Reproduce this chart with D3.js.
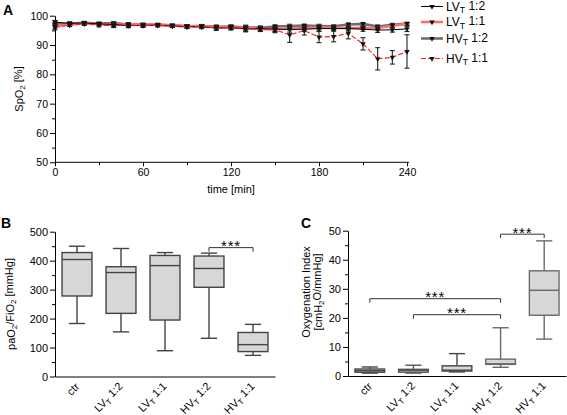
<!DOCTYPE html>
<html><head><meta charset="utf-8">
<script src="https://cdn.jsdelivr.net/npm/d3@7"></script>
<style>
body{margin:0;background:#fff}
svg text{font-family:"Liberation Sans",Arial,Helvetica,sans-serif;fill:#000}
</style>
</head><body>
<svg id="chart" width="567" height="415"></svg>
<script>
// ---------- DATA ----------
const times = [0,10,20,30,40,50,60,70,80,90,100,110,120,130,140,150,160,170,180,190,200,210,220,230,240];
const seriesNames = ["LV_T 1:2","LV_T 1:1","HV_T 1:2","HV_T 1:1"];
const lv12 = [97.8,97.4,97.5,97.2,97.0,96.6,96.7,96.8,96.5,96.3,96.2,95.8,95.9,95.5,95.6,95.4,95.3,95.4,95.6,95.6,95.6,95.4,95.1,95.2,95.5];
const lv12sd = [0.6,0.5,0.5,0.5,0.6,0.7,0.6,0.5,0.5,0.6,0.6,0.8,0.7,1.0,0.8,0.9,0.9,0.8,0.8,0.7,0.8,0.7,0.8,0.8,0.9];
const lv11 = [96.5,97.0,97.4,97.1,96.9,97.0,96.9,96.9,96.6,96.4,96.5,96.1,96.0,95.8,95.5,95.3,95.8,95.8,96.0,95.9,95.8,95.9,95.8,96.6,97.2];
const lv11sd = [0.8,0.5,0.5,0.5,0.5,0.6,0.5,0.5,0.5,0.5,0.5,0.6,0.6,0.7,0.6,0.7,0.6,0.6,0.6,0.6,0.6,0.6,0.6,0.5,0.5];
const hv12 = [97.2,97.3,97.6,97.3,97.5,97.0,97.0,96.9,96.7,96.4,96.5,96.2,96.3,96.0,95.9,96.3,96.5,96.6,96.5,96.4,97.0,97.2,96.3,96.9,97.3];
const hv12sd = [0.6,0.5,0.5,0.6,0.5,0.6,0.5,0.5,0.5,0.5,0.5,0.6,0.6,0.8,0.6,0.7,0.6,0.6,0.6,0.5,0.6,0.5,0.6,0.5,0.5];
const hv11 = [96.0,96.8,97.2,96.8,96.6,96.8,96.6,96.7,96.5,96.3,96.3,95.9,96.0,95.6,95.4,95.2,93.5,94.9,92.7,92.9,94.0,90.4,85.3,85.8,87.8];
const hv11sd = [0.8,0.5,0.5,0.6,0.6,0.8,0.6,0.5,0.5,0.6,0.6,0.8,0.8,1.0,0.8,1.0,2.6,1.5,1.9,1.8,1.9,2.1,3.8,2.3,5.7];
const spoTicks = [50,60,70,80,90,100];
const timeTicks = [0,60,120,180,240];

const groups = ["ctr","LV_T 1:2","LV_T 1:1","HV_T 1:2","HV_T 1:1"];
// paO2/FiO2 [mmHg]: whisker min, Q1, median, Q3, whisker max
const pfMin = [183,154,89,132,73];
const pfQ1  = [278,218,195,308,86];
const pfMed = [404,359,383,373,110];
const pfQ3  = [428,379,418,416,152];
const pfMax = [450,442,428,426,180];
const pfTicks = [0,100,200,300,400,500];
// Oxygenation index [cmH2O/mmHg]
const oiMin = [1.0,1.0,1.4,3.0,12.7];
const oiQ1  = [1.3,1.3,1.7,4.0,20.9];
const oiMed = [1.8,1.9,2.0,4.2,29.5];
const oiQ3  = [2.4,2.3,3.5,5.8,36.2];
const oiMax = [3.1,3.7,7.7,16.6,46.5];
const oiTicks = [0,10,20,30,40,50];
// significance brackets: [fromGroup, toGroup, level]
const pfSig = [[3,4,445]];
const oiSig = [[3,4,48.8],[0,3,26.6],[1,3,21.1]];

// ---------- DRAW ----------
const svg = d3.select("#chart");
const FONT = '"Liberation Sans",Arial,Helvetica,sans-serif';

function styleAxis(g, size){
  g.attr("font-size", size).attr("font-family", FONT);
  g.selectAll("line,path").attr("stroke","#000").attr("stroke-width",1);
}
function leftAxis(scale, x, major, minorStep, size){
  const [lo,hi] = scale.domain();
  const minor = d3.range(lo, hi + 1e-9, minorStep).filter(v => !major.includes(v));
  const gm = svg.append("g").attr("transform",`translate(${x},0)`)
    .call(d3.axisLeft(scale).tickValues(minor).tickSize(3).tickFormat(""));
  gm.select(".domain").remove(); styleAxis(gm,size);
  const g = svg.append("g").attr("transform",`translate(${x},0)`)
    .call(d3.axisLeft(scale).tickValues(major).tickSize(5).tickSizeOuter(0).tickPadding(2));
  styleAxis(g,size);
  return g;
}
function subLabel(sel, name){
  if(name.indexOf("_") < 0){ sel.text(name); return; }
  const base = name.split("_")[0];
  const rest = name.split("_")[1];
  const sub = rest[0], tail = rest.slice(1);
  sel.append("tspan").text(base);
  sel.append("tspan").text(sub).attr("font-size","0.72em").attr("dy","0.3em");
  sel.append("tspan").text(tail).attr("dy","-0.3em");
}

// ===== Panel A =====
const xA = d3.scaleLinear().domain([0,240]).range([55,407]);
const yA = d3.scaleLinear().domain([50,100]).range([162.3,15.7]);

leftAxis(yA, 55, spoTicks, 5, 10.5);
{
  const minor = d3.range(0,241,30).filter(v=>!timeTicks.includes(v));
  const gm = svg.append("g").attr("transform",`translate(0,${yA(50)})`)
    .call(d3.axisBottom(xA).tickValues(minor).tickSize(3).tickFormat(""));
  gm.select(".domain").remove(); styleAxis(gm,10.5);
  const g = svg.append("g").attr("transform",`translate(0,${yA(50)})`)
    .call(d3.axisBottom(xA).tickValues(timeTicks).tickSize(4).tickSizeOuter(0).tickPadding(2));
  styleAxis(g,10.5);
  g.select(".domain").attr("d", `M${xA(0)},0H${xA(240)+2}`);
}
svg.append("text").attr("x",(xA(0)+xA(240))/2).attr("y",193).attr("text-anchor","middle")
  .attr("font-size",11).text("time [min]");
{
  const t = svg.append("text").attr("transform",`translate(23,${(yA(50)+yA(100))/2}) rotate(-90)`)
    .attr("text-anchor","middle").attr("font-size",11);
  t.append("tspan").text("SpO");
  t.append("tspan").text("2").attr("font-size","0.72em").attr("dy","0.3em");
  t.append("tspan").text(" [%]").attr("dy","-0.3em");
}
svg.append("text").attr("x",3).attr("y",15).attr("font-size",14).attr("font-weight","bold").text("A");

const seriesVals = [lv12, lv11, hv12, hv11];
const seriesSd = [lv12sd, lv11sd, hv12sd, hv11sd];
const seriesStyle = [
  {stroke:"#000", width:1, dash:null},
  {stroke:"#ff6f6f", width:2.6, dash:null},
  {stroke:"#6e6e6e", width:2.6, dash:null},
  {stroke:"#ff1a1a", width:1.1, dash:"5,2"}
];
const drawOrder = [2,1,0,3];
const line = d3.line().x(d=>xA(d.t)).y(d=>yA(d.v));
const tri = d3.symbol().type(d3.symbolTriangle).size(13);

drawOrder.forEach(i=>{
  const data = times.map((t,k)=>({t, v:seriesVals[i][k], sd:seriesSd[i][k]}));
  const st = seriesStyle[i];
  const g = svg.append("g");
  const eb = g.selectAll(".eb").data(data).enter().append("g");
  eb.append("line").attr("x1",d=>xA(d.t)).attr("x2",d=>xA(d.t))
    .attr("y1",d=>yA(d.v+d.sd)).attr("y2",d=>yA(d.v-d.sd));
  eb.append("line").attr("x1",d=>xA(d.t)-2.5).attr("x2",d=>xA(d.t)+2.5)
    .attr("y1",d=>yA(d.v+d.sd)).attr("y2",d=>yA(d.v+d.sd));
  eb.append("line").attr("x1",d=>xA(d.t)-2.5).attr("x2",d=>xA(d.t)+2.5)
    .attr("y1",d=>yA(d.v-d.sd)).attr("y2",d=>yA(d.v-d.sd));
  eb.selectAll("line").attr("stroke", i===2 ? "#555" : "#222").attr("stroke-width",1.1);
  g.append("path").datum(data).attr("d",line).attr("fill","none")
    .attr("stroke",st.stroke).attr("stroke-width",st.width)
    .attr("stroke-dasharray",st.dash);
  g.selectAll(".mk").data(data).enter().append("path")
    .attr("d",tri).attr("transform",d=>`translate(${xA(d.t)},${yA(d.v)}) rotate(180)`)
    .attr("fill","#111");
});

// legend
const legY = [6.5,22,38.5,58.5];
seriesNames.forEach((n,i)=>{
  const st = seriesStyle[i];
  const y = legY[i];
  svg.append("line").attr("x1",421).attr("x2",443).attr("y1",y).attr("y2",y)
    .attr("stroke",st.stroke).attr("stroke-width",st.width).attr("stroke-dasharray",st.dash);
  svg.append("path").attr("d",tri).attr("transform",`translate(432,${y}) rotate(180)`).attr("fill","#111");
  const t = svg.append("text").attr("x",446).attr("y",y+4.2).attr("font-size",12);
  subLabel(t,n);
});

// ===== Box panels =====
function boxPanel(opt){
  const x = d3.scaleBand().domain(groups).range(opt.xr).padding(0);
  const y = d3.scaleLinear().domain(opt.yd).range(opt.yr);
  leftAxis(y, opt.xr[0], opt.ticks, opt.minorStep, 11);
  const gx = svg.append("g").attr("transform",`translate(0,${opt.yr[0]})`)
    .call(d3.axisBottom(x).tickSize(0).tickFormat(""));
  styleAxis(gx,11);
  const bw = x.bandwidth()*0.68, cw = x.bandwidth()*0.37;
  groups.forEach((gname,i)=>{
    const cx = x(gname) + x.bandwidth()/2;
    const col = opt.stroke[i];
    const g = svg.append("g").attr("stroke",col).attr("stroke-width",1.4);
    g.append("line").attr("x1",cx).attr("x2",cx).attr("y1",y(opt.max[i])).attr("y2",y(opt.q3[i]));
    g.append("line").attr("x1",cx).attr("x2",cx).attr("y1",y(opt.q1[i])).attr("y2",y(opt.min[i]));
    g.append("line").attr("x1",cx-cw/2).attr("x2",cx+cw/2).attr("y1",y(opt.max[i])).attr("y2",y(opt.max[i]));
    g.append("line").attr("x1",cx-cw/2).attr("x2",cx+cw/2).attr("y1",y(opt.min[i])).attr("y2",y(opt.min[i]));
    g.append("rect").attr("x",cx-bw/2).attr("width",bw).attr("y",y(opt.q3[i]))
      .attr("height",y(opt.q1[i])-y(opt.q3[i])).attr("fill","#d7d7d7");
    g.append("line").attr("x1",cx-bw/2).attr("x2",cx+bw/2).attr("y1",y(opt.med[i])).attr("y2",y(opt.med[i]));
    const t = svg.append("text").attr("text-anchor","end").attr("font-size",11)
      .attr("transform",`translate(${cx+3},${opt.yr[0]+11}) rotate(-45)`);
    subLabel(t,gname);
  });
  opt.sig.forEach(s=>{
    const x1 = x(groups[s[0]])+x.bandwidth()/2, x2 = x(groups[s[1]])+x.bandwidth()/2;
    const yy = y(s[2]);
    svg.append("path").attr("d",`M${x1},${yy+4}V${yy}H${x2}V${yy+4}`)
      .attr("fill","none").attr("stroke","#333").attr("stroke-width",1);
    svg.append("text").attr("x",(x1+x2)/2).attr("y",yy+3.5).attr("text-anchor","middle")
      .attr("font-size",15).attr("letter-spacing",0.8).text("***");
  });
}

boxPanel({xr:[55,275], yd:[0,500], yr:[376.5,231.7], ticks:pfTicks, minorStep:50,
  min:pfMin,q1:pfQ1,med:pfMed,q3:pfQ3,max:pfMax, sig:pfSig,
  stroke:["#444","#444","#444","#444","#444"]});
boxPanel({xr:[348,566], yd:[0,50], yr:[376,230.7], ticks:oiTicks, minorStep:5,
  min:oiMin,q1:oiQ1,med:oiMed,q3:oiQ3,max:oiMax, sig:oiSig,
  stroke:["#444","#555","#444","#6a6a6a","#6a6a6a"]});

svg.append("text").attr("x",1).attr("y",228).attr("font-size",14).attr("font-weight","bold").text("B");
svg.append("text").attr("x",301).attr("y",228).attr("font-size",14).attr("font-weight","bold").text("C");
{
  const t = svg.append("text").attr("transform",`translate(15,304) rotate(-90)`)
    .attr("text-anchor","middle").attr("font-size",11);
  t.append("tspan").text("paO");
  t.append("tspan").text("2").attr("font-size","0.72em").attr("dy","0.3em");
  t.append("tspan").text("/FiO").attr("dy","-0.3em");
  t.append("tspan").text("2").attr("font-size","0.72em").attr("dy","0.3em");
  t.append("tspan").text(" [mmHg]").attr("dy","-0.3em");
}
{
  svg.append("text").attr("transform",`translate(310,292) rotate(-90)`)
    .attr("text-anchor","middle").attr("font-size",11).text("Oxygenation Index");
  const t = svg.append("text").attr("transform",`translate(322,292) rotate(-90)`)
    .attr("text-anchor","middle").attr("font-size",11);
  t.append("tspan").text("[cmH");
  t.append("tspan").text("2").attr("font-size","0.72em").attr("dy","0.3em");
  t.append("tspan").text("O/mmHg]").attr("dy","-0.3em");
}
</script>
</body></html>
